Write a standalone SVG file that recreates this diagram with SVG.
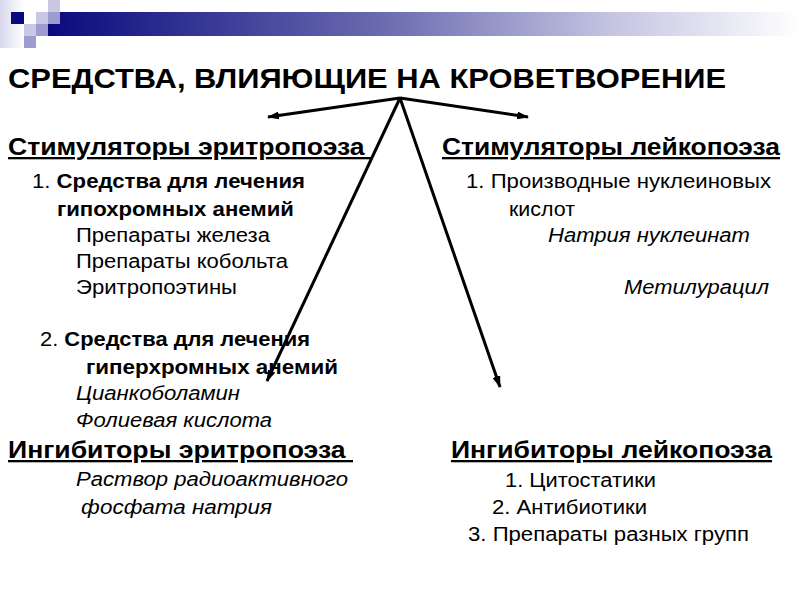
<svg xmlns="http://www.w3.org/2000/svg" width="800" height="600" viewBox="0 0 800 600">
<defs>
<linearGradient id="bar" x1="0" y1="0" x2="1" y2="0">
<stop offset="0" stop-color="#0a0a7e"/>
<stop offset="0.45" stop-color="#6c6cb0"/>
<stop offset="0.75" stop-color="#c4c4e2"/>
<stop offset="1" stop-color="#ffffff"/>
</linearGradient>
<linearGradient id="fade" x1="0" y1="0" x2="1" y2="0">
<stop offset="0" stop-color="#d8d8ee"/>
<stop offset="1" stop-color="#ffffff"/>
</linearGradient>
<marker id="ah" markerWidth="12" markerHeight="8" refX="11" refY="4" orient="auto" markerUnits="userSpaceOnUse">
<path d="M0,0 L12,4 L0,8 Z" fill="#000"/>
</marker>
<style>
text{font-family:"Liberation Sans",Arial,sans-serif;fill:#000}
.t{font-size:28px;font-weight:bold}
.h{font-size:23px;font-weight:bold;text-decoration:underline}
.b{font-size:20px}
.bb{font-weight:bold}
.i{font-style:italic}
.c{stroke:#000;stroke-width:3;fill:none;marker-end:url(#ah)}
</style>
</defs>
<g id="decor">
<rect x="0" y="0" width="24" height="48" fill="url(#fade)"/>
<rect x="48" y="12" width="752" height="24" fill="url(#bar)"/>
<rect x="11" y="12" width="13" height="12" fill="#0a0a7e"/>
<rect x="36" y="12" width="12" height="12" fill="#c8c8e4"/>
<rect x="48" y="0" width="12" height="12" fill="#c8c8e4"/>
<rect x="48" y="12" width="12" height="12" fill="#9c9cd0"/>
<rect x="24" y="24" width="12" height="12" fill="#c8c8e4"/>
<rect x="36" y="24" width="12" height="12" fill="#9c9cd0"/>
<rect x="24" y="36" width="12" height="12" fill="#9c9cd0"/>
</g>
<g id="title"><text class="t" x="8" y="88" textLength="718" lengthAdjust="spacingAndGlyphs">СРЕДСТВА, ВЛИЯЮЩИЕ НА КРОВЕТВОРЕНИЕ</text></g>
<g id="connectors">
<line class="c" x1="400" y1="98" x2="268" y2="117"/>
<line class="c" x1="400" y1="98" x2="528" y2="117"/>
<line class="c" x1="400" y1="98" x2="267" y2="381"/>
<line class="c" x1="400" y1="98" x2="500" y2="387"/>
</g>
<g id="stim-ery">
<text class="h" x="8" y="155" xml:space="preserve" textLength="364" lengthAdjust="spacingAndGlyphs">Стимуляторы эритропоэза </text>
<text class="b" x="32" y="188" textLength="273" lengthAdjust="spacingAndGlyphs">1. <tspan class="bb">Средства для лечения</tspan></text>
<text class="b bb" x="57" y="216" textLength="237" lengthAdjust="spacingAndGlyphs">гипохромных анемий</text>
<text class="b" x="76" y="242" textLength="194" lengthAdjust="spacingAndGlyphs">Препараты железа</text>
<text class="b" x="76" y="268" textLength="212" lengthAdjust="spacingAndGlyphs">Препараты кобольта</text>
<text class="b" x="76" y="294" textLength="161" lengthAdjust="spacingAndGlyphs">Эритропоэтины</text>
<text class="b" x="40" y="346" textLength="270" lengthAdjust="spacingAndGlyphs">2. <tspan class="bb">Средства для лечения</tspan></text>
<text class="b bb" x="86" y="374" textLength="252" lengthAdjust="spacingAndGlyphs">гиперхромных анемий</text>
<text class="b i" x="76" y="400" textLength="164" lengthAdjust="spacingAndGlyphs">Цианкоболамин</text>
<text class="b i" x="76" y="427" textLength="196" lengthAdjust="spacingAndGlyphs">Фолиевая кислота</text>
</g>
<g id="stim-leu">
<text class="h" x="442" y="155" textLength="338" lengthAdjust="spacingAndGlyphs">Стимуляторы лейкопоэза</text>
<text class="b" x="466" y="188" textLength="305" lengthAdjust="spacingAndGlyphs">1. Производные нуклеиновых</text>
<text class="b" x="509" y="216" textLength="66" lengthAdjust="spacingAndGlyphs">кислот</text>
<text class="b i" x="548" y="242" textLength="202" lengthAdjust="spacingAndGlyphs">Натрия нуклеинат</text>
<text class="b i" x="624" y="294" textLength="145" lengthAdjust="spacingAndGlyphs">Метилурацил</text>
</g>
<g id="inh-ery">
<text class="h" x="8" y="458" xml:space="preserve" textLength="345" lengthAdjust="spacingAndGlyphs">Ингибиторы эритропоэза </text>
<text class="b i" x="76" y="486" textLength="272" lengthAdjust="spacingAndGlyphs">Раствор радиоактивного</text>
<text class="b i" x="81" y="514" textLength="191" lengthAdjust="spacingAndGlyphs">фосфата натрия</text>
</g>
<g id="inh-leu">
<text class="h" x="451" y="458" textLength="321" lengthAdjust="spacingAndGlyphs">Ингибиторы лейкопоэза</text>
<text class="b" x="505" y="487" textLength="151" lengthAdjust="spacingAndGlyphs">1. Цитостатики</text>
<text class="b" x="492" y="514" textLength="155" lengthAdjust="spacingAndGlyphs">2. Антибиотики</text>
<text class="b" x="468" y="541" textLength="281" lengthAdjust="spacingAndGlyphs">3. Препараты разных групп</text>
</g>
</svg>
